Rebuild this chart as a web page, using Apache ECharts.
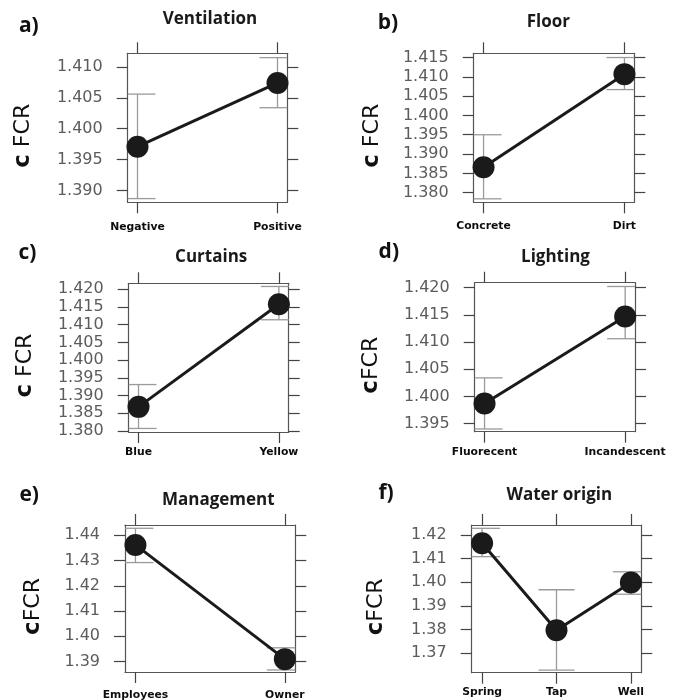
<!DOCTYPE html>
<html>
<head>
<meta charset="utf-8">
<script src="https://cdn.jsdelivr.net/npm/echarts@6/dist/echarts.min.js"></script>
<style>
  html, body { margin: 0; padding: 0; background: #ffffff; }
  #chart { width: 676px; height: 700px; }
</style>
</head>
<body>
<div id="chart"></div>
<script>
// ---------- data ----------
const panelTitles = ['Ventilation', 'Floor', 'Curtains', 'Lighting', 'Management', 'Water origin'];
const panelLetters = ['a)', 'b)', 'c)', 'd)', 'e)', 'f)'];
// y-axis titles: [prefix, separator, variable]
const yAxisTitles = [['c', ' ', 'FCR'], ['c', ' ', 'FCR'], ['c', ' ', 'FCR'], ['c', '', 'FCR'], ['c', '', 'FCR'], ['c', '', 'FCR']];

const catsA = ['Negative', 'Positive'];
const meanA = [1.3971, 1.4074];
const lowA  = [1.3887, 1.4034];
const highA = [1.4056, 1.4115];
const ticksA = [1.390, 1.395, 1.400, 1.405, 1.410];

const catsB = ['Concrete', 'Dirt'];
const meanB = [1.3866, 1.4107];
const lowB  = [1.3784, 1.4067];
const highB = [1.3950, 1.4150];
const ticksB = [1.380, 1.385, 1.390, 1.395, 1.400, 1.405, 1.410, 1.415];

const catsC = ['Blue', 'Yellow'];
const meanC = [1.3868, 1.4158];
const lowC  = [1.3807, 1.4114];
const highC = [1.3931, 1.4208];
const ticksC = [1.380, 1.385, 1.390, 1.395, 1.400, 1.405, 1.410, 1.415, 1.420];

const catsD = ['Fluorecent', 'Incandescent'];
const meanD = [1.3987, 1.4147];
const lowD  = [1.3940, 1.4106];
const highD = [1.4034, 1.4202];
const ticksD = [1.395, 1.400, 1.405, 1.410, 1.415, 1.420];

const catsE = ['Employees', 'Owner'];
const meanE = [1.4362, 1.3909];
const lowE  = [1.4292, 1.3866];
const highE = [1.4428, 1.3954];
const ticksE = [1.39, 1.40, 1.41, 1.42, 1.43, 1.44];

const catsF = ['Spring', 'Tap', 'Well'];
const meanF = [1.4165, 1.3797, 1.3999];
const lowF  = [1.4108, 1.3628, 1.3949];
const highF = [1.4228, 1.3968, 1.4044];
const ticksF = [1.37, 1.38, 1.39, 1.40, 1.41, 1.42];

// axis scale extents (value range visible inside each panel box)
const yRanges = [[1.3881, 1.4122], [1.3775, 1.4161], [1.3797, 1.4217], [1.3935, 1.4209], [1.3858, 1.4441], [1.3617, 1.4242]];
const decimals = [3, 3, 3, 3, 2, 2];

const panels = [
  { cats: catsA, mean: meanA, low: lowA, high: highA, ticks: ticksA },
  { cats: catsB, mean: meanB, low: lowB, high: highB, ticks: ticksB },
  { cats: catsC, mean: meanC, low: lowC, high: highC, ticks: ticksC },
  { cats: catsD, mean: meanD, low: lowD, high: highD, ticks: ticksD },
  { cats: catsE, mean: meanE, low: lowE, high: highE, ticks: ticksE },
  { cats: catsF, mean: meanF, low: lowF, high: highF, ticks: ticksF }
];

// ---------- layout ----------
const layout = [
  { left: 127.7, top: 53.3,  width: 159.6, height: 149,   xMargin: 19, nameGap: 93, titleX: 210,   titleY: 19,    letterX: 28.8, letterY: 25.8 },
  { left: 473.7, top: 53.3,  width: 160.6, height: 149,   xMargin: 18, nameGap: 90, titleX: 548.3, titleY: 21.7,  letterX: 388,  letterY: 23 },
  { left: 128.7, top: 283.3, width: 160,   height: 148.7, xMargin: 15, nameGap: 92, titleX: 211.2, titleY: 256.7, letterX: 27.5, letterY: 253.3 },
  { left: 474.7, top: 282.7, width: 160.3, height: 149,   xMargin: 15, nameGap: 92, titleX: 555.5, titleY: 257.5, letterX: 388.8, letterY: 252.5 },
  { left: 125,   top: 525,   width: 170.3, height: 147,   xMargin: 18, nameGap: 80, titleX: 218.3, titleY: 500,   letterX: 29.2, letterY: 495 },
  { left: 471.7, top: 525,   width: 169.6, height: 147.7, xMargin: 14, nameGap: 84, titleX: 559.3, titleY: 495,   letterX: 386,  letterY: 493.3 }
];

const BOX = '#555555';
const TICK = '#444444';
const ERR = '#9a9a9a';
const INK = '#1a1a1a';

function renderErr(params, api) {
  const x = api.value(0), lo = api.value(1), hi = api.value(2);
  const pHi = api.coord([x, hi]);
  const pLo = api.coord([x, lo]);
  const cs = params.coordSys;
  const hw = 18;
  const cl = v => Math.max(cs.x, Math.min(cs.x + cs.width, v));
  const st = { stroke: ERR, lineWidth: 1.3, fill: null };
  return {
    type: 'group',
    children: [
      { type: 'line', shape: { x1: pHi[0], y1: pHi[1], x2: pLo[0], y2: pLo[1] }, style: st },
      { type: 'line', shape: { x1: cl(pHi[0] - hw), y1: pHi[1], x2: cl(pHi[0] + hw), y2: pHi[1] }, style: st },
      { type: 'line', shape: { x1: cl(pLo[0] - hw), y1: pLo[1], x2: cl(pLo[0] + hw), y2: pLo[1] }, style: st }
    ]
  };
}

const grids = [], xAxes = [], yAxes = [], series = [], titles = [];

panels.forEach((p, i) => {
  const L = layout[i];
  const n = p.cats.length;
  const pad = 0.07 * (n - 1);
  const idx = p.cats.map((c, k) => k);
  const yt = yAxisTitles[i];

  grids.push({ left: L.left, top: L.top, width: L.width, height: L.height, show: false, containLabel: false, outerBoundsMode: 'none' });

  const lineSt = { show: true, onZero: false, lineStyle: { color: BOX, width: 1.2 } };
  const tickSt = { color: TICK, width: 1.2 };

  xAxes.push({
    type: 'value', gridIndex: i, position: 'bottom', min: -pad, max: (n - 1) + pad,
    splitLine: { show: false }, axisLine: lineSt,
    axisTick: { show: true, length: 11, customValues: idx, lineStyle: tickSt },
    axisLabel: {
      show: true, customValues: idx, margin: L.xMargin,
      formatter: v => p.cats[Math.round(v)] || '',
      fontFamily: 'DejaVu Sans', fontWeight: 'bold', fontSize: 10.8, color: '#0d0d0d'
    }
  });
  xAxes.push({
    type: 'value', gridIndex: i, position: 'top', min: -pad, max: (n - 1) + pad,
    splitLine: { show: false }, axisLine: lineSt,
    axisTick: { show: true, length: 11, customValues: idx, lineStyle: tickSt },
    axisLabel: { show: false }
  });

  yAxes.push({
    type: 'value', gridIndex: i, position: 'left', min: yRanges[i][0], max: yRanges[i][1],
    splitLine: { show: false }, axisLine: lineSt,
    axisTick: { show: true, length: 11, customValues: p.ticks, lineStyle: tickSt },
    axisLabel: {
      show: true, customValues: p.ticks, margin: 25,
      formatter: v => Number(v).toFixed(decimals[i]),
      fontFamily: 'DejaVu Sans', fontSize: 16, color: '#5c5c5c'
    },
    name: '{b|' + yt[0] + '}' + yt[1] + '{r|' + yt[2] + '}',
    nameLocation: 'middle', nameRotate: 90, nameGap: L.nameGap,
    nameTextStyle: {
      fontFamily: 'DejaVu Sans', fontSize: 22, color: '#111', padding: [0, 16, 0, 0],
      rich: {
        b: { fontFamily: 'DejaVu Sans', fontWeight: 'bold', fontSize: 23, color: '#111' },
        r: { fontFamily: 'DejaVu Sans', fontWeight: 'normal', fontSize: 22, color: '#111' }
      }
    }
  });
  yAxes.push({
    type: 'value', gridIndex: i, position: 'right', min: yRanges[i][0], max: yRanges[i][1],
    splitLine: { show: false }, axisLine: lineSt,
    axisTick: { show: true, length: 11, customValues: p.ticks, lineStyle: tickSt },
    axisLabel: { show: false }
  });

  series.push({
    type: 'custom', xAxisIndex: 2 * i, yAxisIndex: 2 * i, z: 2, silent: true,
    renderItem: renderErr,
    encode: { x: 0, y: [1, 2] },
    data: idx.map(k => [k, p.low[k], p.high[k]])
  });
  series.push({
    type: 'line', xAxisIndex: 2 * i, yAxisIndex: 2 * i, z: 3, silent: true,
    data: idx.map(k => [k, p.mean[k]]),
    symbol: 'circle', symbolSize: 22, showSymbol: true,
    lineStyle: { color: INK, width: 3 },
    itemStyle: { color: INK }
  });

  titles.push({
    text: panelTitles[i], left: L.titleX, top: L.titleY, padding: 0,
    textAlign: 'center', textVerticalAlign: 'middle',
    textStyle: { fontFamily: 'Open Sans', fontWeight: 'bold', fontSize: 17, color: INK }
  });
  titles.push({
    text: panelLetters[i], left: L.letterX, top: L.letterY, padding: 0,
    textAlign: 'center', textVerticalAlign: 'middle',
    textStyle: { fontFamily: 'Open Sans', fontWeight: 'bold', fontSize: 21, color: '#111' }
  });
});

const chart = echarts.init(document.getElementById('chart'), null, { renderer: 'canvas' });
chart.setOption({
  animation: false,
  backgroundColor: '#ffffff',
  title: titles,
  grid: grids,
  xAxis: xAxes,
  yAxis: yAxes,
  series: series
});
</script>
</body>
</html>
